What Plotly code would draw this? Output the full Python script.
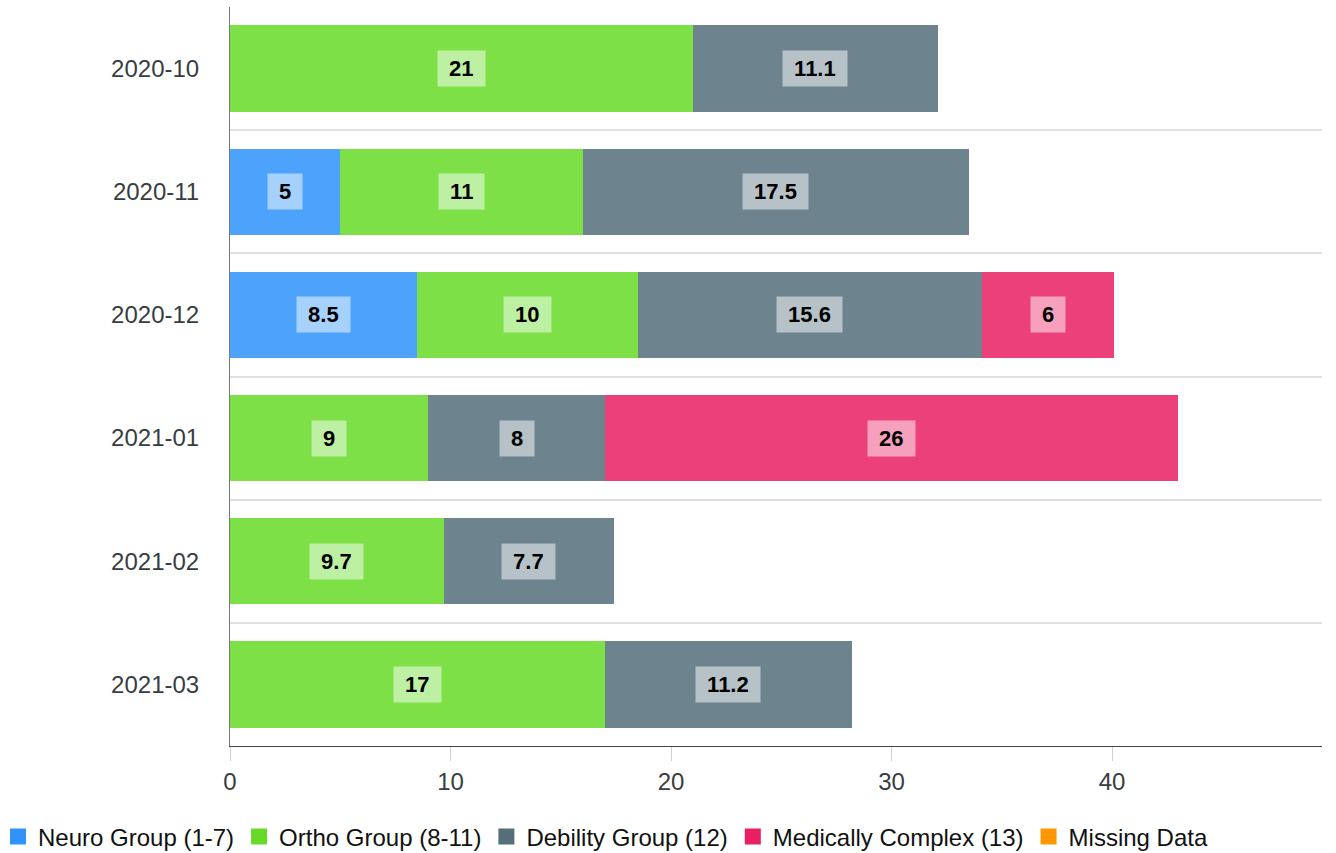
import plotly.graph_objects as go

months = ["2020-10", "2020-11", "2020-12", "2021-01", "2021-02", "2021-03"]
series_names = ["Neuro Group (1-7)", "Ortho Group (8-11)", "Debility Group (12)",
                "Medically Complex (13)", "Missing Data"]
neuro = [None, 5, 8.5, None, None, None]
ortho = [21, 11, 10, 9, 9.7, 17]
debility = [11.1, 17.5, 15.6, 8, 7.7, 11.2]
medical = [None, None, 6, 26, None, None]
missing = [None, None, None, None, None, None]
colors = ["#2E93fA", "#66DA26", "#546E7A", "#E91E63", "#FF9800"]

series_values = [neuro, ortho, debility, medical, missing]

W, H = 1336, 853
ML, MR, MT, MB = 230, 14, 7, 107
plot_w = W - ML - MR
plot_h = H - MT - MB

fig = go.Figure()
annotations = []
base = [0.0] * len(months)
for name, vals, col in zip(series_names, series_values, colors):
    fig.add_trace(go.Bar(
        y=months, x=vals, name=name, orientation="h",
        marker=dict(color=col, opacity=0.85, line=dict(width=0)),
        showlegend=False, legendgroup=name, hoverinfo="x+name",
    ))
    # legend entry (full-colour square)
    fig.add_trace(go.Scatter(
        x=[None], y=[None], mode="markers", name=name, legendgroup=name,
        marker=dict(symbol="square", size=20, color=col),
    ))
    for i, v in enumerate(vals):
        if v is None:
            continue
        annotations.append(dict(
            x=base[i] + v / 2, y=months[i], xref="x", yref="y",
            text="\u00a0" + f"{v:g}" + "\u00a0", showarrow=False,
            font=dict(family="Liberation Sans, Arial, sans-serif", size=22,
                      color="#000000", weight="bold"),
            bgcolor="rgba(255,255,255,0.5)", borderpad=5,
        ))
        base[i] += v

fig.update_layout(
    width=W, height=H, autosize=False,
    margin=dict(l=ML, r=MR, t=MT, b=MB, autoexpand=False),
    barmode="stack", bargap=0.3,
    plot_bgcolor="#ffffff", paper_bgcolor="#ffffff",
    font=dict(family="Liberation Sans, Arial, sans-serif", size=24, color="#373d3f"),
    annotations=annotations,
    legend=dict(
        orientation="h", xref="paper", yref="paper",
        x=(-2 - ML) / plot_w, xanchor="left",
        y=(H - MB - 837) / plot_h, yanchor="middle",
        font=dict(family="Liberation Sans, Arial, sans-serif",
                  size=24, color="#111111"),
        itemsizing="trace", traceorder="normal",
    ),
    xaxis=dict(
        range=[0, 49.52], dtick=10, tick0=0, showgrid=False, zeroline=False,
        showline=True, linecolor="#444444", linewidth=1,
        ticks="outside", ticklen=14, tickcolor="#d0d0d0", tickwidth=1,
        ticklabelstandoff=0,
        tickfont=dict(size=24, color="#373d3f"),
    ),
    yaxis=dict(
        type="category", categoryorder="array", categoryarray=months,
        autorange="reversed", tickson="boundaries", ticks="",
        showgrid=True, gridcolor="#e0e0e0", gridwidth=2,
        showline=True, linecolor="#777777", linewidth=1, zeroline=False,
        ticklabelstandoff=25,
        tickfont=dict(size=24, color="#373d3f"),
    ),
)

fig.write_html("out.html", config={"displayModeBar": False},
               post_script="document.body.style.margin='0';")
